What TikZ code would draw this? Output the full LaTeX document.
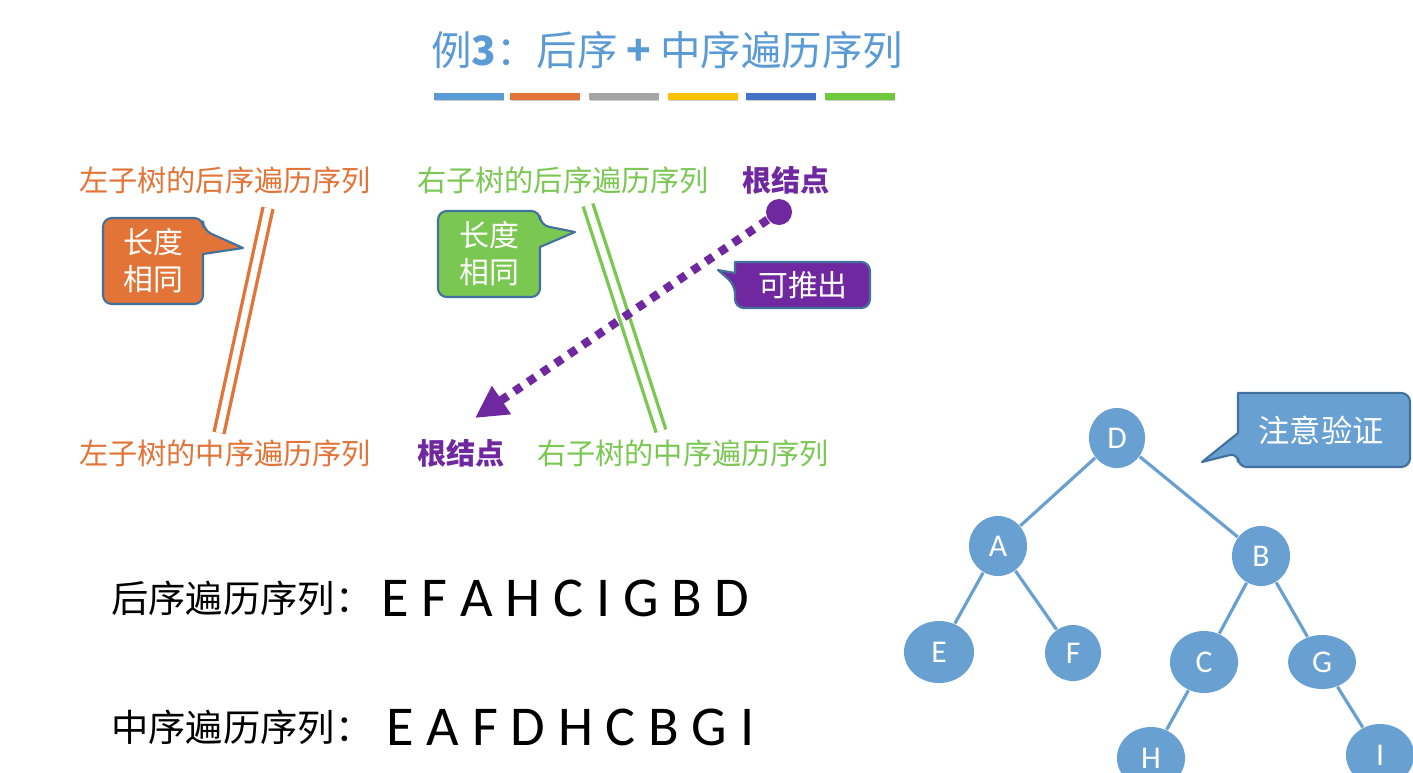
\documentclass[tikz,border=0pt]{standalone}
\usepackage{fontspec}
\setmainfont{Carlito}
\newfontfamily\cjk{Noto Sans CJK SC}
\usetikzlibrary{positioning,shapes.geometric,arrows.meta}

\definecolor{titleblue}{RGB}{91,155,213}
\definecolor{treeblue}{RGB}{104,160,210}
\definecolor{seqorange}{RGB}{226,116,56}
\definecolor{seqgreen}{RGB}{122,200,82}
\definecolor{rootpurple}{RGB}{112,40,160}
\definecolor{rimblue}{RGB}{65,113,156}
\definecolor{bargray}{RGB}{165,165,165}
\definecolor{baryellow}{RGB}{255,192,0}
\definecolor{bardark}{RGB}{68,114,196}
\definecolor{bargreen}{RGB}{112,200,60}

\tikzset{
  seqlbl/.style={font=\cjk\fontsize{8.3}{10}\selectfont, inner sep=0pt},
  rootlbl/.style={seqlbl, text=rootpurple, font=\cjk\bfseries\fontsize{8.3}{10}\selectfont},
  bubble/.style={draw=rimblue, line width=0.6pt, line join=round},
  bubbletext/.style={text=white, align=center, inner sep=0pt, font=\cjk\fontsize{8.5}{10.5}\selectfont},
  treenode/.style={ellipse, fill=treeblue, text=white, font=\fontsize{9}{10}\selectfont, inner sep=0pt},
  treeedge/.style={draw=treeblue, line width=0.9pt},
  colbar/.style={minimum width=0.69cm, minimum height=0.07cm, inner sep=0pt},
  splitline/.style={line width=0.95pt, double=white, double distance=1.9pt},
  orderlbl/.style={font=\cjk\fontsize{10.6}{12}\selectfont, inner sep=0pt, anchor=east},
  orderseq/.style={font=\fontsize{16}{18}\selectfont, inner sep=0pt, anchor=west}
}

\begin{document}
\begin{tikzpicture}[x=0.01cm, y=-0.01cm]
  \clip (0,0) rectangle (1413,772);
  \fill[white] (0,0) rectangle (1413,772);

  % title and the colour strip
  \node[font=\cjk\fontsize{11.5}{12}\selectfont, text=titleblue] (title) at (667,50) {例\textbf{3}：后序 \textbf{+} 中序遍历序列};
  \foreach \x/\c [count=\i] in {469/titleblue,545/seqorange,624/bargray,703/baryellow,781/bardark,860/bargreen} {
    \fill[black!20] (\x-34,98) rectangle (\x+35,101);
    \node[colbar, fill=\c] (bar\i) at (\x,96) {};
  }

  % the four sequences split into parts
  \node[seqlbl, text=seqorange] (lpost) at (225,180) {左子树的后序遍历序列};
  \node[seqlbl, text=seqgreen] (rpost) at (563,180) {右子树的后序遍历序列};
  \node[rootlbl] (rootpost) at (786,180) {根结点};
  \node[seqlbl, text=seqorange] (lin) at (225,453) {左子树的中序遍历序列};
  \node[rootlbl] (rootin) at (461,453) {根结点};
  \node[seqlbl, text=seqgreen] (rin) at (683,453) {右子树的中序遍历序列};

  % double lines between parts of equal length
  \draw[splitline, draw=seqorange] (268,208) -- (219,433);
  \draw[splitline, draw=seqgreen] (588,205) -- (661,431);

  % root of postorder gives root of inorder
  \node[circle, fill=rootpurple, minimum size=0.26cm, inner sep=0pt] (rootdot) at (779,212) {};
  \coordinate (roottip) at (475,418);
  \draw[rootpurple, line width=2.4pt, dash pattern=on 2.4pt off 2.3pt,
    -{Triangle[length=0.32cm, width=0.32cm]}] (rootdot) -- (roottip);

  % speech bubbles
  \draw[bubble, fill=seqorange] (153,218) [rounded corners=2.5pt] -- (203,218) -- (203,230) [sharp corners]
    -- (243,248) -- (203,254) [rounded corners=2.5pt] -- (203,304) -- (103,304) -- (103,218) -- cycle;
  \node[bubbletext] (lsame) at (153,261) {长度\\相同};
  \draw[bubble, fill=seqgreen] (489,211) [rounded corners=2.5pt] -- (540,211) -- (540,225) [sharp corners]
    -- (575,232) -- (540,247) [rounded corners=2.5pt] -- (540,297) -- (438,297) -- (438,211) -- cycle;
  \node[bubbletext] (rsame) at (489,254) {长度\\相同};
  \draw[bubble, fill=rootpurple] (803,262) [rounded corners=2.5pt] -- (870,262) -- (870,308) -- (735,308) -- (735,285)
    [sharp corners] -- (718,270) -- (735,273) -- (735,262) [rounded corners=2.5pt] -- cycle;
  \node[bubbletext] (derive) at (803,285) {可推出};
  \draw[bubble, fill=treeblue] (1324,393) [rounded corners=2.5pt] -- (1410,393) -- (1410,467) -- (1238,467) -- (1238,453)
    [sharp corners] -- (1202,462) -- (1238,433) -- (1238,393) [rounded corners=2.5pt] -- cycle;
  \node[bubbletext, font=\cjk\fontsize{8.9}{10.5}\selectfont] (check) at (1321,430) {注意验证};

  % the given sequences
  \node[orderlbl] (postlbl) at (373,598) {后序遍历序列：};
  \node[orderseq] (postseq) at (381,598) {E F A H C I G B D};
  \node[orderlbl] (inlbl) at (373,727) {中序遍历序列：};
  \node[orderseq] (inseq) at (386,727) {E A F D H C B G I};

  % the rebuilt tree
  \node[treenode, minimum width=0.56cm, minimum height=0.6cm] (D) at (1117,438) {D};
  \node[treenode, minimum width=0.58cm, minimum height=0.6cm] (A) at (998,546) {A};
  \node[treenode, minimum width=0.58cm, minimum height=0.6cm] (B) at (1261,556) {B};
  \node[treenode, minimum width=0.7cm, minimum height=0.62cm] (E) at (939,652) {E};
  \node[treenode, minimum width=0.56cm, minimum height=0.56cm] (F) at (1073,653) {F};
  \node[treenode, minimum width=0.68cm, minimum height=0.62cm] (C) at (1204,662) {C};
  \node[treenode, minimum width=0.68cm, minimum height=0.54cm] (G) at (1322,662) {G};
  \node[treenode, minimum width=0.68cm, minimum height=0.62cm] (H) at (1151,758) {H};
  \node[treenode, minimum width=0.68cm, minimum height=0.62cm] (I) at (1380,755) {I};
  \foreach \a/\b in {D/A,D/B,A/E,A/F,B/C,B/G,C/H,G/I}
    \draw[treeedge] (\a) -- (\b);
\end{tikzpicture}
\end{document}
